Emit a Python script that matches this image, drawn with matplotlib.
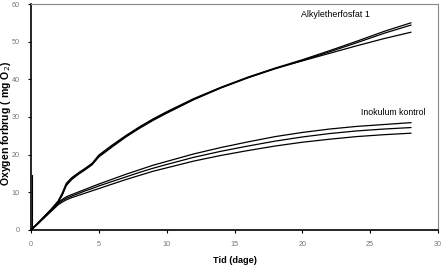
import matplotlib
matplotlib.use("Agg")
import matplotlib.pyplot as plt

plt.rcParams['font.family'] = ['Liberation Sans', 'DejaVu Sans']

# tid i dage
t = [0, 0.5, 1, 1.5, 2, 2.3, 2.6, 3, 3.5, 4, 4.5, 5, 6, 7, 8, 9, 10,
     12, 14, 16, 18, 20, 22, 24, 26, 28]

# Alkyletherfosfat 1 (tre replikater)
alkyl_a = [0, 1.8, 3.7, 5.6, 7.7, 9.8, 12.4, 13.9, 15.2, 16.4, 17.7, 19.9,
           22.6, 25.1, 27.4, 29.5, 31.4, 34.9, 37.9, 40.6, 43.0, 45.2,
           47.6, 50.1, 52.7, 55.0]
alkyl_b = [0, 1.7, 3.5, 5.4, 7.4, 9.2, 11.8, 13.4, 14.8, 16.0, 17.3, 19.4,
           22.1, 24.7, 27.0, 29.1, 31.0, 34.6, 37.7, 40.4, 42.8, 45.0,
           47.3, 49.7, 52.2, 54.4]
alkyl_c = [0, 1.7, 3.6, 5.5, 7.5, 9.4, 12.0, 13.6, 15.0, 16.2, 17.5, 19.6,
           22.3, 24.9, 27.2, 29.3, 31.2, 34.7, 37.8, 40.5, 42.9, 44.9,
           46.9, 48.9, 50.8, 52.5]

# Inokulum kontrol (tre replikater)
inok_a = [0, 1.8, 3.6, 5.4, 7.3, 8.1, 8.8, 9.4, 10.1, 10.8, 11.5, 12.2,
          13.5, 14.8, 16.0, 17.2, 18.2, 20.2, 21.9, 23.4, 24.8, 25.9,
          26.8, 27.5, 28.0, 28.5]
inok_b = [0, 1.7, 3.5, 5.2, 7.0, 7.8, 8.4, 9.0, 9.7, 10.4, 11.0, 11.7,
          12.9, 14.1, 15.3, 16.4, 17.4, 19.3, 20.9, 22.3, 23.6, 24.7,
          25.6, 26.3, 26.8, 27.2]
inok_c = [0, 1.6, 3.3, 5.0, 6.7, 7.4, 8.0, 8.6, 9.2, 9.8, 10.4, 11.0,
          12.2, 13.4, 14.5, 15.6, 16.5, 18.3, 19.8, 21.1, 22.3, 23.3,
          24.1, 24.8, 25.3, 25.7]

# lodret stump ved t = 0
stub_t = [0.1, 0.1]
stub_y = [0, 14.5]

fig = plt.figure(figsize=(4.45, 2.67), dpi=100)
ax = fig.add_axes([0.0697, 0.1386, 0.9146, 0.8464])

for serie in [alkyl_a, alkyl_b, alkyl_c, inok_a, inok_b, inok_c]:
    ax.plot(t, serie, color='black', lw=0.9)
ax.plot(stub_t, stub_y, color='black', lw=0.8)

ax.set_xlim(0, 30)
ax.set_ylim(0, 60)
ax.set_xticks(range(0, 31, 5))
ax.set_yticks(range(0, 61, 10))
ax.tick_params(labelsize=5.2, colors='black', labelcolor='#777777',
               length=2, width=0.8, pad=6)

for side in ['top', 'right']:
    ax.spines[side].set_color('#888888')
    ax.spines[side].set_linewidth(0.8)
for side in ['left', 'bottom']:
    ax.spines[side].set_linewidth(1.2)

ax.set_xlabel('Tid (dage)', fontsize=6.6, fontweight='bold', labelpad=6)
ax.set_ylabel('Oxygen forbrug ( mg O$_2$)', fontsize=7.6, fontweight='bold')
ax.yaxis.set_label_coords(-0.044, 0.47)

ax.text(19.9, 57.2, 'Alkyletherfosfat 1', fontsize=6.4, va='center')
ax.text(24.3, 31.2, 'Inokulum kontrol', fontsize=6.3, va='center')

fig.savefig('out.png', dpi=100)
